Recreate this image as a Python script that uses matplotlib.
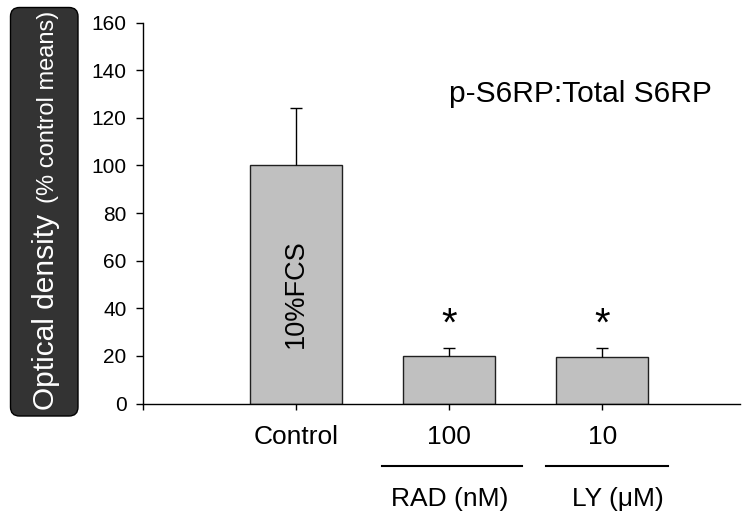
import matplotlib
matplotlib.use("Agg")
import matplotlib.pyplot as plt
import numpy as np
from matplotlib.patches import FancyBboxPatch
from matplotlib.transforms import blended_transform_factory

plt.rcParams['font.family'] = ['Liberation Sans', 'DejaVu Sans']

# ---- data ----
positions = [1, 2, 3]
values = [100, 19.8, 19.7]
err_up = [24.2, 3.4, 3.5]
tick_labels = ['Control', '100', '10']
bar_text = '10%FCS'
star_y = [33, 33]
star_x = [2, 3]
group_labels = ['RAD (nM)', 'LY (\u03bcM)']
group_label_x = [2.0, 3.1]
group_lines = [(1.56, 2.475), (2.63, 3.43)]
title = 'p-S6RP:Total S6RP'

W, H = 746, 512
fig = plt.figure(figsize=(W / 100, H / 100), dpi=100)

ax = fig.add_axes([143.3 / W, 1 - 403.5 / H, 596.7 / W, 380.8 / H])
ax.set_xlim(0, 3.9)
ax.set_ylim(0, 160)

ax.bar(positions, values, width=0.6, color='#c0c0c0', edgecolor='#202020',
       linewidth=1.0, zorder=2)
eb = ax.errorbar(positions, values, yerr=[[0] * 3, err_up], fmt='none',
                 ecolor='black', elinewidth=1.0, capsize=4.6, capthick=1.0,
                 zorder=3)
# keep only the upper caps
for cl in eb[1]:
    yd = np.asarray(cl.get_ydata(), dtype=float)
    if np.allclose(yd, values):
        cl.set_visible(False)

for sx, sy in zip(star_x, star_y):
    ax.text(sx, sy, '*', ha='center', va='center', fontsize=29)

ax.text(1, 46, bar_text, rotation=90, ha='center', va='center', fontsize=19.5)
ax.text(2.0, 126.8, title, ha='left', va='baseline', fontsize=21.5)

ax.spines['top'].set_visible(False)
ax.spines['right'].set_visible(False)
for s in ['left', 'bottom']:
    ax.spines[s].set_linewidth(1.0)

ax.set_yticks(range(0, 161, 20))
ax.tick_params(axis='y', direction='out', length=5, width=1.0, pad=7,
               labelsize=15)
ax.set_xticks([0] + positions)
ax.set_xticklabels([''] + tick_labels)
ax.tick_params(axis='x', direction='out', length=4.5, width=1.0, pad=11,
               labelsize=19)

tr = blended_transform_factory(ax.transData, ax.transAxes)
for (x0, x1) in group_lines:
    ax.plot([x0, x1], [-0.164, -0.164], color='black', lw=1.5,
            transform=tr, clip_on=False)
for gx, gl in zip(group_label_x, group_labels):
    ax.text(gx, -(505.7 - 403.5) / 380.8, gl, transform=tr, ha='center',
            va='baseline', fontsize=19)

# ---- y label box (pixel coordinate overlay) ----
ov = fig.add_axes([0, 0, 1, 1], zorder=-1)
ov.set_xlim(0, W)
ov.set_ylim(H, 0)
ov.axis('off')
ov.add_patch(FancyBboxPatch((10.5, 7.5), 67.5, 408.5,
                            boxstyle='round,pad=0,rounding_size=9',
                            facecolor='#333333', edgecolor='black', lw=1.0))
t1 = ov.text(54, 410, 'Optical density', rotation=90, rotation_mode='anchor',
             ha='left', va='baseline', color='white', fontsize=21.5)
fig.canvas.draw()
bb = t1.get_window_extent(fig.canvas.get_renderer())
y2 = 410 - bb.height - 11
ov.text(54, y2, '(% control means)', rotation=90, rotation_mode='anchor',
        ha='left', va='baseline', color='white', fontsize=17)

fig.savefig('out.png', dpi=100)
